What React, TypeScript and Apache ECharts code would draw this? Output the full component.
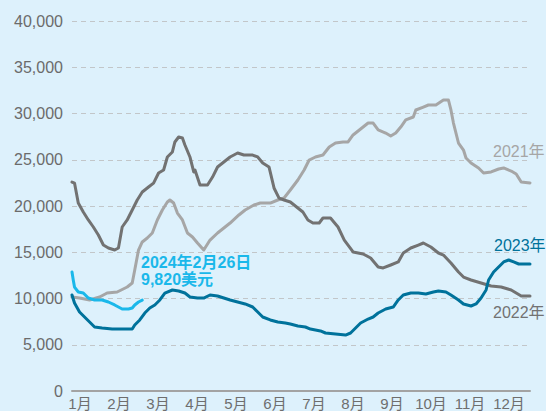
import React, { useEffect, useRef } from "react";
import * as echarts from "echarts";

const months = ["1月", "2月", "3月", "4月", "5月", "6月", "7月", "8月", "9月", "10月", "11月", "12月"];
const yTicks = { min: 0, max: 40000, interval: 5000 };

const days2021 = [0, 6, 14, 22, 28, 36, 44, 48, 50, 53, 56, 60, 64, 68, 72, 76, 78, 81, 84, 88, 92, 96, 100, 105, 110, 116, 121, 126, 133, 138, 145, 150, 158, 164, 169, 174, 180, 185, 189, 194, 200, 205, 210, 216, 220, 224, 232, 236, 240, 244, 250, 254, 258, 262, 266, 272, 274, 280, 284, 290, 296, 300, 302, 304, 308, 312, 314, 318, 324, 328, 334, 340, 344, 350, 354, 358, 365];
const vals2021 = [10160, 10050, 9840, 10160, 10590, 10700, 11240, 11680, 13080, 15240, 16110, 16540, 17080, 18490, 19570, 20430, 20650, 20320, 19240, 18490, 17080, 16650, 16000, 15240, 16320, 17080, 17620, 18160, 19030, 19570, 20110, 20320, 20320, 20650, 20860, 21730, 22810, 23890, 24970, 25300, 25510, 26380, 26810, 26920, 26920, 27680, 28540, 28970, 28970, 28220, 27890, 27570, 27890, 28540, 29300, 29620, 30380, 30700, 30920, 30920, 31460, 31460, 30380, 28970, 26810, 26050, 25190, 24650, 24110, 23570, 23680, 24000, 24110, 23780, 23460, 22590, 22490];

const days2022 = [0, 2, 5, 9, 13, 17, 21, 25, 29, 34, 37, 40, 44, 48, 52, 56, 61, 65, 69, 73, 76, 80, 82, 85, 88, 90, 94, 97, 98, 102, 108, 112, 116, 121, 126, 132, 137, 144, 148, 152, 157, 161, 165, 169, 174, 180, 184, 188, 192, 197, 200, 206, 212, 217, 224, 232, 238, 244, 248, 254, 260, 264, 270, 276, 280, 286, 292, 296, 302, 308, 312, 318, 326, 334, 342, 350, 358, 365];
const vals2022 = [22590, 22480, 20320, 19350, 18490, 17730, 16860, 15780, 15460, 15240, 15460, 17730, 18490, 19570, 20650, 21510, 22050, 22480, 23570, 23890, 25300, 25840, 26920, 27460, 27350, 26590, 25300, 23680, 23890, 22270, 22270, 23130, 24220, 24760, 25300, 25730, 25510, 25510, 25300, 24650, 24220, 21950, 20860, 20650, 20430, 19780, 19350, 18490, 18160, 18160, 18700, 18700, 17730, 16320, 15030, 14810, 14380, 13400, 13300, 13620, 13950, 14920, 15460, 15780, 16000, 15570, 14920, 14700, 13840, 12860, 12320, 12000, 11680, 11350, 11240, 10920, 10270, 10270];

const days2023 = [0, 2, 6, 10, 14, 18, 24, 32, 40, 48, 50, 54, 58, 62, 66, 70, 74, 80, 85, 90, 94, 100, 105, 110, 116, 121, 126, 132, 138, 144, 148, 152, 158, 164, 170, 174, 180, 186, 190, 198, 202, 210, 218, 222, 226, 230, 236, 240, 244, 250, 256, 260, 264, 270, 276, 282, 288, 292, 298, 302, 308, 312, 318, 322, 326, 330, 332, 336, 340, 344, 348, 352, 356, 365];
const vals2023 = [10380, 9510, 8540, 8000, 7460, 6920, 6810, 6700, 6700, 6700, 7140, 7680, 8430, 8970, 9300, 9840, 10590, 10920, 10810, 10590, 10160, 10050, 10050, 10380, 10270, 10050, 9840, 9620, 9410, 9080, 8540, 8000, 7680, 7460, 7350, 7240, 7030, 6920, 6700, 6490, 6270, 6160, 6050, 6270, 6810, 7350, 7780, 8000, 8430, 8860, 9080, 9840, 10380, 10590, 10590, 10490, 10700, 10810, 10700, 10380, 9840, 9410, 9190, 9410, 10050, 10920, 12000, 12860, 13410, 13950, 14160, 13950, 13730, 13730];

const days2024 = [0, 1, 2, 5, 9, 13, 18, 24, 29, 34, 40, 45, 48, 50, 53, 56];
const vals2024 = [12860, 12000, 11240, 10700, 10590, 10050, 9840, 9840, 9620, 9300, 8860, 8860, 8970, 9300, 9620, 9820];

const labelNames = ["2021年", "2022年", "2023年"];
const noteLines = ["2024年2月26日", "9,820美元"];

const FONT = '"Liberation Sans", Arial, "Noto Sans CJK SC", sans-serif';

function zip(d: number[], v: number[]) {
  return d.map((x, i) => [x, v[i]]);
}

export default function App() {
  const ref = useRef<HTMLDivElement>(null);
  useEffect(() => {
    if (!ref.current) return;
    const chart = echarts.init(ref.current, null, { renderer: "svg" });
    const lineSeries = (name: string, data: number[][], color: string) => ({
      name,
      type: "line",
      xAxisIndex: 0,
      yAxisIndex: 0,
      data,
      showSymbol: false,
      symbol: "none",
      lineStyle: { color, width: 3, join: "round", cap: "round" },
    });
    chart.setOption({
      animation: false,
      backgroundColor: "#ddf1fc",
      textStyle: { fontFamily: FONT },
      grid: [
        { left: 72, right: 16, top: 21, bottom: 20 },
        { left: 60.5, right: 17.5, top: 21, bottom: 20 },
      ],
      xAxis: [
        {
          type: "value",
          gridIndex: 0,
          min: 0,
          max: 365,
          axisLine: { show: true, onZero: false, lineStyle: { color: "#a3a3a3", width: 2 } },
          axisTick: { show: false },
          axisLabel: { show: false },
          splitLine: { show: false },
        },
        {
          type: "category",
          gridIndex: 1,
          data: months,
          boundaryGap: true,
          axisLine: { show: false },
          axisTick: { show: false },
          axisLabel: { color: "#6e6e6e", fontSize: 15, margin: 6, interval: 0, fontFamily: FONT },
        },
      ],
      yAxis: [
        {
          type: "value",
          gridIndex: 0,
          min: yTicks.min,
          max: yTicks.max,
          interval: yTicks.interval,
          axisLine: { show: false },
          axisTick: { show: false },
          axisLabel: {
            color: "#6b6b6b",
            fontSize: 16,
            margin: 9,
            fontFamily: FONT,
            formatter: (v: number) => v.toLocaleString("en-US"),
          },
          splitLine: { lineStyle: { color: "#c2c6c9", type: [5, 4], width: 1 } },
        },
        { type: "value", gridIndex: 1, show: false, min: 0, max: 1 },
      ],
      series: [
        lineSeries("2021", zip(days2021, vals2021), "#a6a6a6"),
        lineSeries("2022", zip(days2022, vals2022), "#727272"),
        lineSeries("2023", zip(days2023, vals2023), "#00729b"),
        lineSeries("2024", zip(days2024, vals2024), "#1ab8ea"),
      ],
      graphic: [
        { type: "text", left: 493, top: 143, style: { text: labelNames[0], fill: "#a6a6a6", font: `16px ${FONT}` } },
        { type: "text", left: 493, top: 304, style: { text: labelNames[1], fill: "#727272", font: `16px ${FONT}` } },
        { type: "text", left: 494, top: 237, style: { text: labelNames[2], fill: "#00729b", font: `16px ${FONT}` } },
        {
          type: "text",
          left: 141,
          top: 254,
          style: {
            text: noteLines.join("\n"),
            fill: "#1ab8ea",
            font: `bold 16px ${FONT}`,
            lineHeight: 17,
          },
        },
      ],
    });
    return () => chart.dispose();
  }, []);
  return <div ref={ref} style={{ position: "fixed", left: 0, top: 0, width: 546, height: 411 }} />;
}
